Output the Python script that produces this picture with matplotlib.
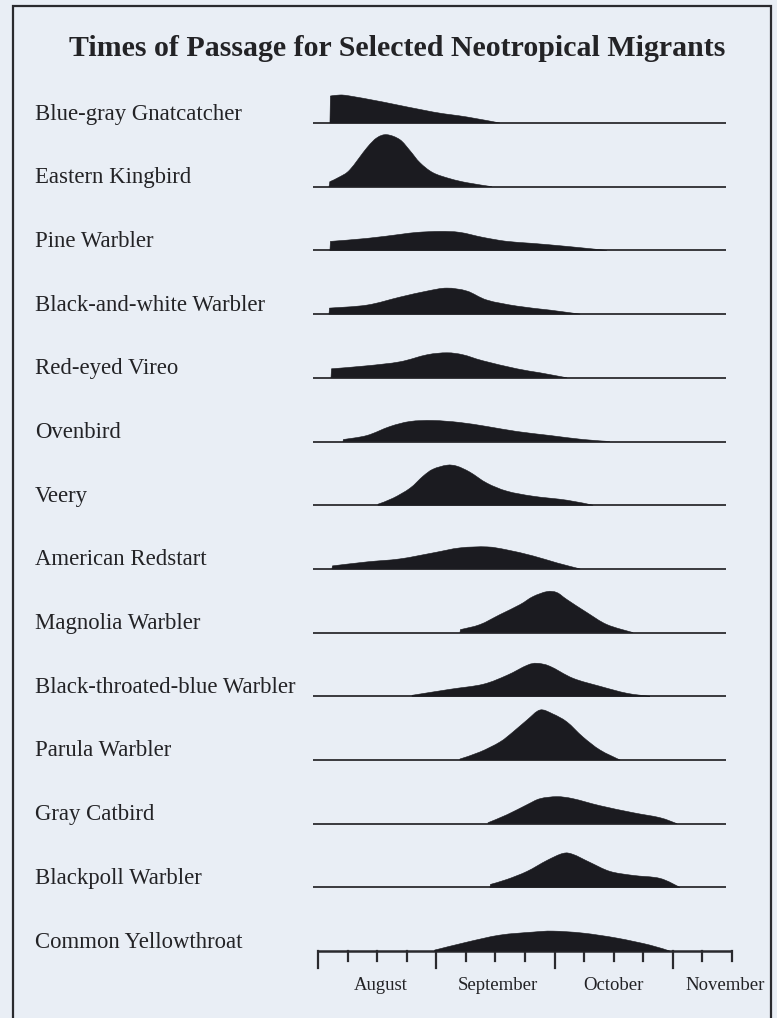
import matplotlib
matplotlib.use("Agg")
import matplotlib.pyplot as plt
from matplotlib.patches import Rectangle, PathPatch
from matplotlib.path import Path

# ---------------- data (x in months after 1 August, h = relative abundance) -------------
species = [
    "Blue-gray Gnatcatcher", "Eastern Kingbird", "Pine Warbler",
    "Black-and-white Warbler", "Red-eyed Vireo", "Ovenbird", "Veery",
    "American Redstart", "Magnolia Warbler", "Black-throated-blue Warbler",
    "Parula Warbler", "Gray Catbird", "Blackpoll Warbler", "Common Yellowthroat",
]

gnatcatcher_x = [0.101, 0.105, 0.186, 0.270, 0.549, 0.972, 1.260, 1.538]
gnatcatcher_h = [0, 27, 28, 27, 21, 11, 6, 0]

kingbird_x = [0.093, 0.100, 0.186, 0.270, 0.414, 0.499, 0.583, 0.693, 0.778, 0.862, 0.972, 1.116, 1.260, 1.471]
kingbird_h = [0, 5, 10, 17, 39, 49, 52, 47, 36, 24, 14, 8, 4, 0]

pine_x = [0.101, 0.105, 0.414, 0.693, 0.837, 1.031, 1.200, 1.395, 1.598, 1.817, 2.105, 2.443]
pine_h = [0, 9, 12, 16, 18, 19, 18, 13, 9, 7, 4, 0]

bw_x = [0.093, 0.097, 0.414, 0.693, 0.921, 1.090, 1.260, 1.429, 1.682, 1.961, 2.215]
bw_h = [0, 6, 9, 17, 23, 26, 23, 14, 8, 4, 0]

vireo_x = [0.110, 0.114, 0.414, 0.693, 0.921, 1.090, 1.226, 1.395, 1.682, 1.877, 2.105]
vireo_h = [0, 9, 12, 16, 23, 25, 23, 17, 9, 5, 0]

ovenbird_x = [0.211, 0.215, 0.414, 0.609, 0.778, 0.972, 1.200, 1.429, 1.682, 1.961, 2.240, 2.468]
ovenbird_h = [0, 2, 6, 15, 20, 21, 19, 15, 10, 6, 2, 0]

veery_x = [0.507, 0.634, 0.778, 0.888, 0.972, 1.090, 1.175, 1.285, 1.429, 1.598, 1.817, 2.105, 2.325]
veery_h = [1, 7, 17, 29, 36, 40, 39, 33, 22, 14, 9, 5, 0]

redstart_x = [0.118, 0.122, 0.414, 0.693, 0.972, 1.200, 1.429, 1.598, 1.817, 2.020, 2.215]
redstart_h = [0, 3, 7, 10, 16, 21, 22, 19, 13, 6, 0]

magnolia_x = [1.200, 1.204, 1.369, 1.538, 1.708, 1.817, 1.936, 2.020, 2.105, 2.274, 2.443, 2.663]
magnolia_h = [0, 3, 8, 18, 28, 36, 41, 40, 33, 20, 8, 0]

btb_x = [0.795, 1.116, 1.395, 1.598, 1.767, 1.851, 1.961, 2.156, 2.384, 2.612, 2.806]
btb_h = [1, 7, 12, 21, 31, 33, 30, 18, 10, 3, 0]

parula_x = [1.200, 1.369, 1.538, 1.648, 1.767, 1.877, 1.986, 2.105, 2.240, 2.384, 2.553]
parula_h = [1, 8, 18, 28, 40, 50, 46, 38, 23, 10, 0]

catbird_x = [1.437, 1.598, 1.767, 1.877, 2.020, 2.156, 2.384, 2.663, 2.891, 3.035]
catbird_h = [1, 9, 19, 25, 27, 25, 18, 11, 6, 0]

blackpoll_x = [1.454, 1.458, 1.598, 1.767, 1.936, 2.071, 2.156, 2.299, 2.468, 2.663, 2.891, 3.060]
blackpoll_h = [0, 3, 8, 16, 27, 34, 33, 25, 16, 12, 9, 0]

yellowthroat_x = [0.986, 1.260, 1.538, 1.817, 1.986, 2.240, 2.527, 2.806, 2.975]
yellowthroat_h = [1, 9, 16, 19, 20, 18, 13, 6, 0]

series_x = [gnatcatcher_x, kingbird_x, pine_x, bw_x, vireo_x, ovenbird_x, veery_x,
            redstart_x, magnolia_x, btb_x, parula_x, catbird_x, blackpoll_x, yellowthroat_x]
series_h = [gnatcatcher_h, kingbird_h, pine_h, bw_h, vireo_h, ovenbird_h, veery_h,
            redstart_h, magnolia_h, btb_h, parula_h, catbird_h, blackpoll_h, yellowthroat_h]

months = ["August", "September", "October", "November"]
month_label_pos = [0.53, 1.52, 2.50, 3.44]
major_ticks = [0, 1, 2, 3]
minor_ticks = [0.25, 0.5, 0.75, 1.25, 1.5, 1.75, 2.25, 2.5, 2.75, 3.25, 3.5]

title = "Times of Passage for Selected Neotropical Migrants"

# ---------------- layout ----------------
W, H = 777, 1018
PX_PER_MONTH = 118.3
X0 = 318  # pixel of 1 August
bg = "#e9eef5"
ink = "#1b1b20"
txt = "#232326"

fig = plt.figure(figsize=(W / 100, H / 100), dpi=100, facecolor=bg)
ax = fig.add_axes([0, 0, 1, 1])
ax.set_facecolor(bg)
ax.set_xlim(-X0 / PX_PER_MONTH, (W - X0) / PX_PER_MONTH)
ax.set_ylim(H, 0)
ax.axis("off")

serif = ["Liberation Serif", "DejaVu Serif"]

# frame (open at the bottom, like the cropped page)
fig.patches.append(Rectangle((13 / W, -0.02), (771 - 13) / W, (H - 6) / H + 0.02,
                             transform=fig.transFigure, fill=False,
                             edgecolor="#2a2a2e", linewidth=1.6))

ax.text((397 - X0) / PX_PER_MONTH, 56, title, fontsize=21.5, fontweight="bold",
        family=serif, color=txt, ha="center", va="baseline")


def smooth_path(xs, ys, yb):
    """Closed path: baseline start, then a smooth Bezier curve through the points."""
    pts = list(zip(xs, ys))
    k = 0
    verts = [(xs[0], yb)]
    codes = [Path.MOVETO]
    if ys[0] >= yb - 1e-9 and len(pts) > 1 and abs(xs[1] - xs[0]) < 0.02:
        k = 1  # vertical step at start
    verts.append(pts[k])
    codes.append(Path.LINETO)
    cp = pts[k:]
    m = len(cp)
    for j in range(m - 1):
        p0 = cp[j - 1] if j > 0 else cp[j]
        p1 = cp[j]
        p2 = cp[j + 1]
        p3 = cp[j + 2] if j + 2 < m else cp[j + 1]
        c1 = (p1[0] + (p2[0] - p0[0]) / 6, p1[1] + (p2[1] - p0[1]) / 6)
        c2 = (p2[0] - (p3[0] - p1[0]) / 6, p2[1] - (p3[1] - p1[1]) / 6)
        verts += [c1, c2, p2]
        codes += [Path.CURVE4] * 3
    verts.append((cp[-1][0], yb))
    codes.append(Path.LINETO)
    verts.append((xs[0], yb))
    codes.append(Path.CLOSEPOLY)
    return Path(verts, codes)


base0 = 123.0
step = 63.7
n = len(species)
for i, (name, xs, hs) in enumerate(zip(species, series_x, series_h)):
    yb = base0 + step * i
    ax.text((35 - X0) / PX_PER_MONTH, yb - 3.5, name, fontsize=16.4, family=serif,
            color=txt, ha="left", va="baseline")
    if i < n - 1:
        ax.plot([-0.042, 3.45], [yb, yb], color="#3a3a3e", lw=1.4,
                solid_capstyle="butt", zorder=2)
    ys = [yb - h for h in hs]
    ax.add_patch(PathPatch(smooth_path(xs, ys, yb), facecolor=ink, edgecolor=ink,
                           lw=0.4, zorder=3))

# time axis
yb = base0 + step * (n - 1)
ax.plot([0, 3.5], [yb, yb], color="#2a2a2e", lw=1.8, solid_capstyle="butt", zorder=2)
for t in major_ticks:
    ax.plot([t, t], [yb, yb + 17], color="#2a2a2e", lw=1.6, zorder=2)
for t in minor_ticks:
    ax.plot([t, t], [yb, yb + 10], color="#2a2a2e", lw=1.6, zorder=2)
for lab, p in zip(months, month_label_pos):
    ax.text(p, 985, lab, fontsize=13.5, family=serif, color=txt,
            ha="center", va="center")

fig.savefig("out.png", dpi=100, facecolor=bg)
